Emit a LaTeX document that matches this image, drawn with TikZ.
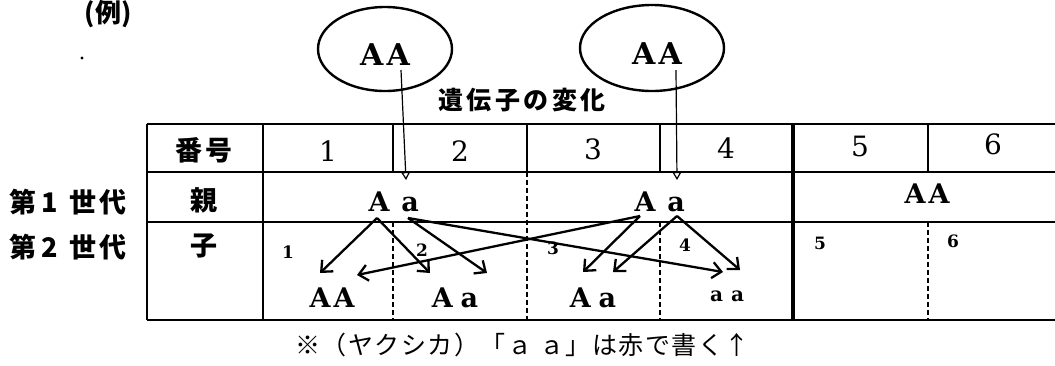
\documentclass[tikz,border=0pt]{standalone}
\usepackage{fontspec}
\usetikzlibrary{arrows.meta,shapes.geometric}
\newfontfamily\jp{Noto Sans CJK JP}
\newfontfamily\jpls{Noto Sans CJK JP}[LetterSpace=14]
\newfontfamily\jpnote{Noto Sans CJK JP}[LetterSpace=6]
\newfontfamily\gen{DejaVu Serif}
\begin{document}
\begin{tikzpicture}[x=1pt,y=-1pt,
  grid/.style={line width=2.8pt},
  thickgrid/.style={line width=3.6pt},
  dashln/.style={line width=2.6pt, dash pattern=on 5pt off 3pt},
  gene/.style={font=\gen\bfseries\fontsize{27}{27}\selectfont, inner sep=0pt, anchor=base},
  genebig/.style={font=\gen\bfseries\fontsize{30}{30}\selectfont, inner sep=0pt, anchor=base},
  genesm/.style={font=\gen\bfseries\fontsize{20}{20}\selectfont, inner sep=0pt, anchor=base},
  cross/.style={line width=2.3pt, -{Straight Barb[length=9pt,width=16pt,line width=2.3pt]}},
  drop/.style={line width=1.2pt, -{Triangle[open,length=8pt,width=9pt,line width=1.2pt]}},
  jplab/.style={font=\jp\bfseries\fontsize{27}{27}\selectfont, inner sep=0pt},
  num/.style={font=\gen\fontsize{28}{28}\selectfont, inner sep=0pt},
  smallnum/.style={font=\gen\bfseries\fontsize{17}{17}\selectfont, inner sep=0pt},
  parent/.style={ellipse, draw, line width=2.4pt, inner sep=0pt}
]
\useasboundingbox (0,0) rectangle (1055,365);

% heading texts
\node[font=\jp\bfseries\fontsize{26}{26}\selectfont, inner sep=0pt] (ex) at (108,14) {(例)};
\fill (82,58) circle (1.6pt);
\node[font=\jpls\bfseries\fontsize{25}{25}\selectfont, inner sep=0pt] (title) at (522,100) {遺伝子の変化};

% ellipses (parents)
\node[parent, minimum width=134pt, minimum height=84pt] (e1) at (385,49) {};
\node[genebig] (e1t) at (385,65) {A\kern3pt A};
\node[parent, minimum width=144pt, minimum height=86pt] (e2) at (652,48) {};
\node[genebig] (e2t) at (657,64) {A\kern3pt A};

% table grid
\draw[grid] (147,124) -- (1055,124);
\draw[grid] (147,172) -- (1055,172);
\draw[grid] (147,222) -- (1055,222);
\draw[grid] (147,320) -- (1055,320);
\draw[grid] (147,124) -- (147,320);
\draw[grid] (263,124) -- (263,320);
\draw[grid] (393,124) -- (393,172);
\draw[grid] (527,124) -- (527,172);
\draw[grid] (660,124) -- (660,172);
\draw[thickgrid] (793,124) -- (793,320);
\draw[grid] (928,124) -- (928,172);
\draw[dashln] (393,222) -- (393,320);
\draw[dashln] (527,172) -- (527,320);
\draw[dashln] (660,222) -- (660,320);
\draw[dashln] (928,222) -- (928,320);

% row labels
\node[jplab, anchor=west] (g1) at (9,202) {第\kern5pt1\kern12pt世\kern3pt代};
\node[jplab, anchor=west] (g2) at (9,247) {第\kern5pt2\kern12pt世\kern3pt代};
\node[jplab] (bango) at (204,150) {番\kern4pt号};
\node[jplab] (oya) at (204,200) {親};
\node[jplab] (ko) at (204,246) {子};

% header numbers
\node[num] (n1) at (328,151) {1};
\node[num] (n2) at (460,151) {2};
\node[num] (n3) at (593,149) {3};
\node[num] (n4) at (726,148) {4};
\node[num] (n5) at (860,146) {5};
\node[num] (n6) at (993,144) {6};

% parent row
\node[gene] (pA1) at (379,211) {A};
\node[gene] (pa1) at (410,211) {a};
\node[gene] (pA2) at (645,211) {A};
\node[gene] (pa2) at (676,211) {a};
\node[gene] (pAA) at (927,203) {A\kern3pt A};

% drop arrows from ellipses
\coordinate (d1s) at (401,70);
\coordinate (d1e) at (406,180);
\coordinate (d2s) at (676,70);
\coordinate (d2e) at (677,180);
\draw[drop] (d1s) -- (d1e);
\draw[drop] (d2s) -- (d2e);

% child row small numbers
\node[smallnum] (c1) at (288,252) {1};
\node[smallnum] (c2) at (422,250) {2};
\node[smallnum] (c3) at (553,248) {3};
\node[smallnum] (c4) at (685,245) {4};
\node[smallnum] (c5) at (820,243) {5};
\node[smallnum] (c6) at (953,241) {6};

% child genotypes
\node[gene] (k1) at (332,307) {A\kern3pt A};
\node[gene] (k2) at (455,307) {A\kern8pt a};
\node[gene] (k3) at (593,307) {A\kern8pt a};
\node[genesm] (k4) at (727,301) {a\kern8pt a};

% crossing arrows
\coordinate (sA1) at (377,218);
\coordinate (sa1) at (408,218);
\coordinate (sA2) at (640,216);
\coordinate (sa2) at (677,216);
\coordinate (t1) at (320,273);
\coordinate (t2) at (430,273);
\coordinate (t3) at (487,273);
\coordinate (t4) at (723,272);
\coordinate (t5) at (583,272);
\coordinate (t6) at (357,275);
\coordinate (t7) at (613,272);
\coordinate (t8) at (740,270);
\draw[cross] (sA1) -- (t1);
\draw[cross] (sA1) -- (t2);
\draw[cross] (sa1) -- (t3);
\draw[cross] (sa1) -- (t4);
\draw[cross] (sA2) -- (t5);
\draw[cross] (sA2) -- (t6);
\draw[cross] (sa2) -- (t7);
\draw[cross] (sa2) -- (t8);

% note
\node[font=\jpnote\fontsize{25}{25}\selectfont, inner sep=0pt, anchor=west] (note) at (295,345) {※（ヤクシカ）「ａ ａ」は赤で書く↑};
\end{tikzpicture}
\end{document}
